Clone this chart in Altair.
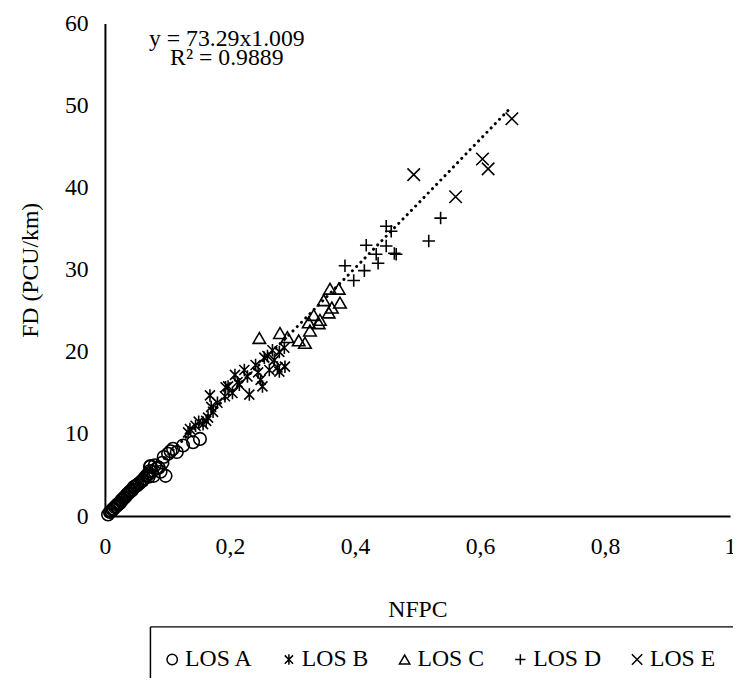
import altair as alt
import pandas as pd

# ---- data ----
los_a_x = [0.005, 0.008, 0.010, 0.012, 0.014, 0.016, 0.018, 0.020, 0.022, 0.024,
           0.026, 0.028, 0.030, 0.032, 0.034, 0.036, 0.038, 0.040, 0.042, 0.044,
           0.046, 0.048, 0.050, 0.052, 0.055, 0.058, 0.060, 0.063, 0.066, 0.068,
           0.070, 0.072, 0.073, 0.075, 0.078, 0.080, 0.083, 0.086, 0.089, 0.092,
           0.094, 0.097, 0.101, 0.105, 0.109, 0.115, 0.125, 0.141, 0.152, 0.070, 0.072]
los_a_y = [0.2, 0.5, 0.6, 0.8, 0.9, 1.1, 1.2, 1.4, 1.5, 1.6,
           1.9, 2.0, 2.2, 2.3, 2.5, 2.7, 2.8, 3.0, 3.1, 3.2,
           3.5, 3.6, 3.7, 3.8, 4.0, 4.2, 4.3, 4.6, 4.9, 5.0,
           5.2, 5.5, 6.1, 5.4, 4.9, 6.2, 5.8, 5.9, 5.4, 6.5,
           7.2, 4.9, 7.6, 7.9, 8.2, 7.8, 8.6, 9.0, 9.4, 4.8, 6.0]

los_b_x = [0.133, 0.136, 0.145, 0.150, 0.157, 0.162, 0.165, 0.170, 0.173, 0.168,
           0.180, 0.192, 0.193, 0.197, 0.204, 0.208, 0.212, 0.215, 0.223, 0.228,
           0.231, 0.241, 0.245, 0.249, 0.252, 0.255, 0.260, 0.263, 0.268, 0.271,
           0.276, 0.279, 0.279, 0.287, 0.288]
los_b_y = [10.2, 10.6, 11.0, 11.5, 11.2, 11.6, 12.0, 13.3, 12.7, 14.7,
           13.8, 14.6, 15.7, 15.8, 15.0, 17.2, 16.3, 16.0, 17.8, 17.0,
           14.8, 18.4, 17.5, 16.6, 15.8, 19.3, 19.5, 17.8, 20.2, 19.0,
           18.1, 20.0, 17.6, 20.5, 18.2]

los_c_x = [0.247, 0.280, 0.292, 0.310, 0.320, 0.326, 0.328, 0.334, 0.342, 0.344,
           0.350, 0.358, 0.360, 0.363, 0.374, 0.376]
los_c_y = [21.7, 22.3, 21.8, 21.4, 21.1, 23.6, 22.6, 24.5, 23.5, 23.9,
           26.3, 24.8, 27.7, 25.4, 27.7, 26.0]

los_d_x = [0.384, 0.398, 0.415, 0.418, 0.434, 0.437, 0.450, 0.450, 0.458, 0.463,
           0.466, 0.518, 0.537]
los_d_y = [30.5, 28.7, 29.9, 33.0, 31.9, 30.8, 35.3, 32.9, 34.7, 32.0,
           31.9, 33.5, 36.3]

los_e_x = [0.494, 0.561, 0.604, 0.613, 0.651]
los_e_y = [41.6, 38.9, 43.5, 42.3, 48.4]

trend_x = [0.005, 0.10, 0.20, 0.30, 0.40, 0.50, 0.651]
trend_y = [0.4, 7.4, 14.9, 22.5, 30.2, 38.0, 49.9]

categories = ["LOS A", "LOS B", "LOS C", "LOS D", "LOS E"]
equation_lines = ["y = 73.29x1.009", "R² = 0.9889"]
equation_x = [0.195, 0.195]
equation_y = [58.1, 55.8]

x_ticks = [0, 0.2, 0.4, 0.6, 0.8, 1]
y_ticks = [0, 10, 20, 30, 40, 50, 60]

# ---- build tables ----
rows = []
for name, xs, ys in zip(categories,
                        [los_a_x, los_b_x, los_c_x, los_d_x, los_e_x],
                        [los_a_y, los_b_y, los_c_y, los_d_y, los_e_y]):
    for xv, yv in zip(xs, ys):
        rows.append({"NFPC": xv, "FD": yv, "LOS": name})
points_df = pd.DataFrame(rows)
trend_df = pd.DataFrame({"NFPC": trend_x, "FD": trend_y})
eq_df = pd.DataFrame({"NFPC": equation_x, "FD": equation_y, "label": equation_lines})

FONT = "Liberation Serif"
FS = 24

x_scale = alt.Scale(domain=[0, 1], nice=False, zero=True)
y_scale = alt.Scale(domain=[0, 60], nice=False)

x_axis = alt.Axis(values=x_ticks, title="NFPC", grid=False, ticks=False, tickSize=0,
                  labelPadding=19, titlePadding=40,
                  labelExpr="replace(format(datum.value, '.1~f'), '.', ',')",
                  labelFlush=False, labelOverlap=False)
y_axis = alt.Axis(values=y_ticks, title="FD (PCU/km)", grid=False, ticks=False, tickSize=0,
                  labelPadding=17, titlePadding=22, labelFlush=False, labelOverlap=False)

shape_range = [
    "circle",
    "M-0.8,-0.8L0.8,0.8M-0.8,0.8L0.8,-0.8M0,-1L0,1",
    "triangle-up",
    "M-1,0L1,0M0,-1L0,1",
    "M-1,-1L1,1M-1,1L1,-1",
]

points = alt.Chart(points_df).mark_point(
    filled=False, color="black", strokeWidth=1.6, size=160, opacity=1
).encode(
    x=alt.X("NFPC:Q", scale=x_scale, axis=x_axis),
    y=alt.Y("FD:Q", scale=y_scale, axis=y_axis),
    shape=alt.Shape("LOS:N", scale=alt.Scale(domain=categories, range=shape_range),
                    legend=alt.Legend(
                        title=None, orient="none", direction="horizontal", columns=5,
                        legendX=56, legendY=631, padding=0,
                        labelFont=FONT, labelFontSize=FS, labelColor="black",
                        symbolSize=110, symbolStrokeColor="black", symbolStrokeWidth=1.5,
                        symbolFillColor="transparent", symbolType="circle",
                        labelOffset=1, columnPadding=24, labelLimit=200)),
)

trend = alt.Chart(trend_df).mark_line(
    color="black", strokeWidth=3, strokeDash=[0.1, 6], strokeCap="round"
).encode(x=alt.X("NFPC:Q", scale=x_scale), y=alt.Y("FD:Q", scale=y_scale))

equation = alt.Chart(eq_df).mark_text(
    font=FONT, fontSize=FS, color="black", align="center", baseline="middle"
).encode(x=alt.X("NFPC:Q", scale=x_scale), y=alt.Y("FD:Q", scale=y_scale), text="label:N")

box_data = alt.Data(values=[{"k": 1}])
box_top = alt.Chart(box_data).mark_rule(color="black", strokeWidth=1.5).encode(
    x=alt.value(46), x2=alt.value(700), y=alt.value(610))
box_left = alt.Chart(box_data).mark_rule(color="black", strokeWidth=1.5).encode(
    x=alt.value(46), y=alt.value(610), y2=alt.value(720))

chart = alt.layer(trend, points, equation, box_top, box_left).properties(
    width=632, height=498,
    autosize=alt.AutoSizeParams(type="none"),
    padding={"left": 98, "top": 12, "right": 3, "bottom": 160},
).configure_view(stroke=None).configure_axis(
    domainColor="black", domainWidth=2, labelFont=FONT, labelFontSize=FS,
    labelColor="black", titleFont=FONT, titleFontSize=FS, titleFontWeight="normal",
    titleColor="black",
)

chart.save("out.html", embed_options={"renderer": "svg", "actions": False})
